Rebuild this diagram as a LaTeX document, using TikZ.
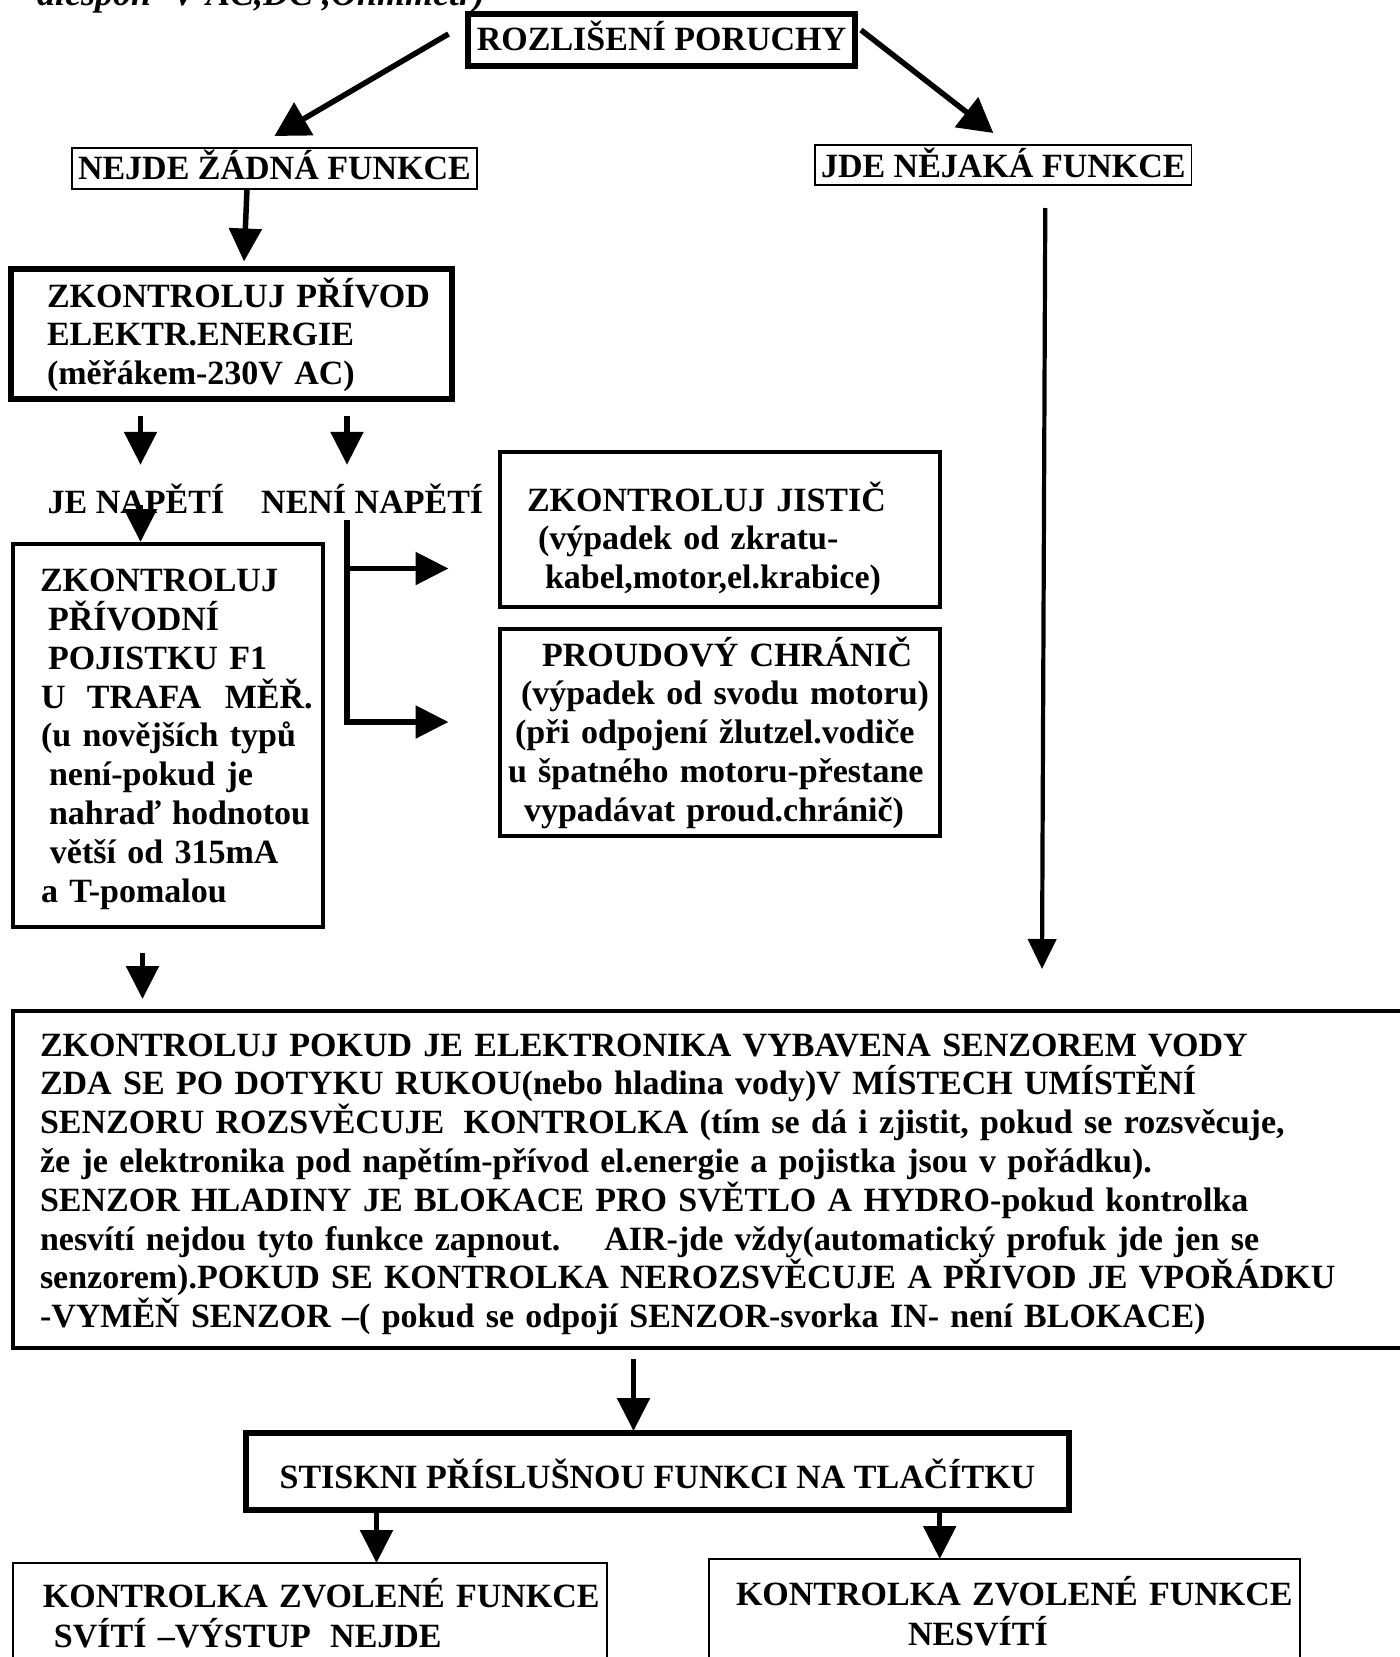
\documentclass[tikz,border=0pt]{standalone}
\usepackage{fontspec}
\setmainfont{Liberation Serif}
\usetikzlibrary{arrows.meta}
\begin{document}
\begin{tikzpicture}[x=1pt,y=1pt,
		txt/.style={font=\fontsize{34}{38.8}\selectfont\bfseries},
		box/.style={txt,draw=black,anchor=north west,outer sep=0pt,inner xsep=6pt,inner ysep=0pt},
		heavy/.style={box,line width=5.5pt},
		medium/.style={box,line width=4.5pt},
		light/.style={box,line width=1.6pt},
		flow/.style={draw=black,line width=5.5pt,-{Triangle[length=33pt,width=32pt]}},
		slant/.style={flow,-{Triangle[length=34pt,width=37pt]}},
		thinflow/.style={flow,line width=4.2pt,-{Triangle[length=30pt,width=28pt]}}]
		\tikzstyle{every node}+=[inner sep=0pt]
		\useasboundingbox (0,0) rectangle (1400,-1657);
		\draw (37,-5) node [anchor=base west,font=\fontsize{36}{40}\selectfont\bfseries\itshape] (meter) {alespoň- V-AC,DC ,Ohmmetr)};
		\draw (468,-14) node [heavy,minimum width=387pt,minimum height=52pt,text height=36pt,text depth=16pt] (porucha) {ROZLIŠENÍ PORUCHY};
		\draw (72,-148) node [light,minimum width=399pt,minimum height=41pt,text height=31.5pt,text depth=9.5pt] (nejde) {NEJDE ŽÁDNÁ FUNKCE};
		\draw (815,-145) node [light,minimum width=370pt,minimum height=40pt,text height=32pt,text depth=8pt] (jde) {JDE NĚJAKÁ FUNKCE};
		\draw (11,-269) node [heavy,text width=429pt,align=left,minimum height=130pt,text height=38pt,text depth=92pt] (privod) {\hspace*{30pt}ZKONTROLUJ PŘÍVOD\\\hspace*{30pt}ELEKTR.ENERGIE\\\hspace*{30pt}(měřákem-230V AC)};
		\draw (47.5,-513) node [txt,anchor=base west,text height=25pt,text depth=8pt] (je) {JE NAPĚTÍ};
		\draw (261,-513) node [txt,anchor=base west,text height=25pt,text depth=8pt] (neni) {NENÍ NAPĚTÍ};
		\draw (13,-544) node [medium,inner xsep=2pt,text width=306pt,align=left,minimum height=383pt,text height=47.6pt,text depth=335.4pt] (pojistka) {\hspace*{25pt}ZKONTROLUJ\\\hspace*{33pt}PŘÍVODNÍ\\\hspace*{33pt}POJISTKU F1\\\hspace*{26pt}U\hspace{10pt} TRAFA\hspace{12pt} MĚŘ.\\\hspace*{26pt}(u novějších typů\\\hspace*{34pt}není-pokud je\\\hspace*{34pt}nahraď hodnotou\\\hspace*{35pt}větší od 315mA\\\hspace*{26pt}a T-pomalou};
		\draw (500,-452) node [medium,text width=428pt,align=left,minimum height=155pt,text height=59pt,text depth=96pt] (jistic) {\hspace*{21pt}ZKONTROLUJ JISTIČ\\\hspace*{32pt}(výpadek od zkratu-\\\hspace*{39pt}kabel,motor,el.krabice)};
		\draw (500,-629) node [medium,text width=428pt,align=left,minimum height=207pt,text height=37pt,text depth=170pt] (chranic) {\hspace*{36pt}PROUDOVÝ CHRÁNIČ\\\hspace*{15pt}(výpadek od svodu motoru)\\\hspace*{9pt}(při odpojení žlutzel.vodiče\\\hspace*{2pt}u špatného motoru-přestane\\\hspace*{18pt}vypadávat proud.chránič)};
		\draw (13,-1011) node [medium,text width=1400pt,align=left,minimum height=337pt,text height=45pt,text depth=292pt] (big) {\hspace*{21pt}ZKONTROLUJ POKUD JE ELEKTRONIKA VYBAVENA SENZOREM VODY\\\hspace*{21pt}ZDA SE PO DOTYKU RUKOU(nebo hladina vody)V MÍSTECH UMÍSTĚNÍ\\\hspace*{21pt}SENZORU ROZSVĚCUJE\hspace{8pt} KONTROLKA (tím se dá i zjistit, pokud se rozsvěcuje,\\\hspace*{21pt}že je elektronika pod napětím-přívod el.energie a pojistka jsou v pořádku).\\\hspace*{21pt}SENZOR HLADINY JE BLOKACE PRO SVĚTLO A HYDRO-pokud kontrolka\\\hspace*{21pt}nesvítí nejdou tyto funkce zapnout.\hspace{27pt} AIR-jde vždy(automatický profuk jde jen se\\\hspace*{21pt}senzorem).POKUD SE KONTROLKA NEROZSVĚCUJE A PŘIVOD JE VPOŘÁDKU\\\hspace*{21pt}-VYMĚŇ SENZOR –( pokud se odpojí SENZOR-svorka IN- není BLOKACE)};
		\draw (246,-1433) node [heavy,minimum width=823pt,minimum height=77pt,text height=55pt,text depth=22pt] (stiskni) {STISKNI PŘÍSLUŠNOU FUNKCI NA TLAČÍTKU};
		\draw (13,-1563) node [box,line width=2.5pt,font=\fontsize{34}{40}\selectfont\bfseries,text width=582pt,align=left,text height=44pt,text depth=300pt] (svit) {\hspace*{24pt}KONTROLKA ZVOLENÉ FUNKCE\\\hspace*{35pt}SVÍTÍ –VÝSTUP\hspace{8pt} NEJDE};
		\draw (709,-1559) node [box,line width=2.5pt,font=\fontsize{34}{40}\selectfont\bfseries,text width=579pt,align=left,text height=46pt,text depth=300pt] (nesviti) {\hspace*{21pt}KONTROLKA ZVOLENÉ FUNKCE\\\hspace*{193pt}NESVÍTÍ};
		\coordinate (fork1) at ([xshift=-153pt,yshift=-39pt]jistic.west);
		\coordinate (fork2) at ([xshift=-153pt,yshift=10.5pt]chranic.west);
		\draw [slant] ([xshift=-19.5pt,yshift=6pt]porucha.west) -- ([yshift=12pt]nejde.north);
		\draw [slant] ([xshift=6pt,yshift=10pt]porucha.east) -- ([xshift=-10pt,yshift=12pt]jde.north);
		\draw [flow] ([xshift=-27.5pt,yshift=-1pt]nejde.south) -- ([xshift=12.5pt,yshift=7.5pt]privod.north);
		\draw [flow] ([xshift=129.5pt,yshift=-17pt]privod.south west) -- ([xshift=93pt,yshift=23pt]je.north west);
		\draw [flow] ([xshift=336pt,yshift=-17pt]privod.south west) -- ([xshift=86pt,yshift=23pt]neni.north west);
		\draw [flow] ([xshift=93pt,yshift=-17pt]je.north west) -- ([xshift=127.5pt,yshift=2pt]pojistka.north west);
		\draw [flow] ([xshift=86pt,yshift=1pt]neni.south west) -- (fork2) -- ([xshift=-51.5pt,yshift=10.5pt]chranic.west);
		\draw [flow] (fork1) -- ([xshift=-51.5pt,yshift=-39pt]jistic.west);
		\draw [thinflow] ([xshift=42pt,yshift=-23pt]jde.south) -- ([xshift=323pt,yshift=42pt]big.north);
		\draw [flow] ([xshift=-25.5pt,yshift=-26pt]pojistka.south) -- ([xshift=129.5pt,yshift=12pt]big.north west);
		\draw [flow] ([xshift=-85.5pt,yshift=-11pt]big.south) -- ([xshift=-24pt,yshift=2pt]stiskni.north);
		\draw [flow] ([xshift=130.5pt]stiskni.south west) -- ([xshift=66.5pt]svit.north);
		\draw [flow] ([xshift=693.7pt]stiskni.south west) -- ([xshift=-64.8pt]nesviti.north);
	\end{tikzpicture}
\end{document}
